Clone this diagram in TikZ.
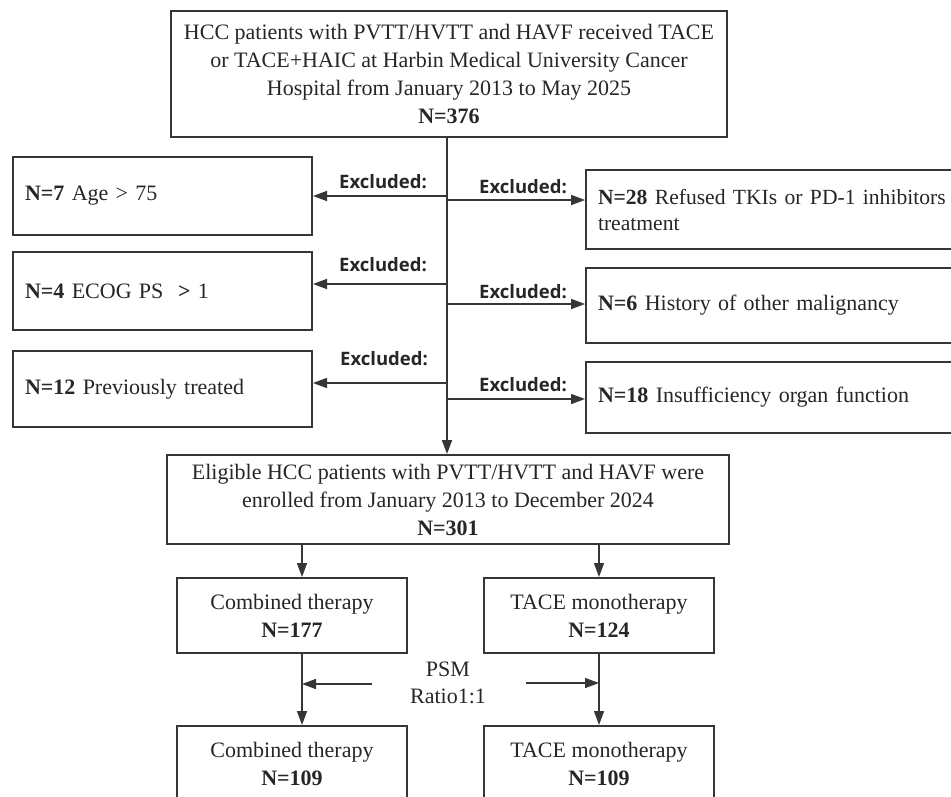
\documentclass[tikz,border=0pt]{standalone}
\usepackage{fontspec}
\setmainfont{Liberation Serif}
\newfontfamily\exfont{Open Sans}
\usetikzlibrary{arrows.meta}
\definecolor{ln}{HTML}{363636}
\definecolor{tx}{HTML}{262626}
\tikzset{
  box/.style={draw=ln, line width=2pt, text=tx, font=\fontsize{22}{28}\selectfont, inner sep=0pt, align=center},
  lbox/.style={draw=ln, line width=2pt, text=tx, font=\fontsize{22}{26}\selectfont, inner xsep=12pt, inner ysep=0pt, align=left},
  arr/.style={draw=ln, line width=1.5pt, -{Triangle[length=14pt,width=10pt]}},
  mainln/.style={draw=ln, line width=1.8pt, -{Triangle[length=14pt,width=10pt]}},
  exl/.style={font=\exfont\bfseries\fontsize{18.5}{22}\selectfont, text=tx, inner sep=0pt},
  psmlabel/.style={font=\fontsize{22}{27}\selectfont, text=tx, inner sep=0pt, align=center}
}
\begin{document}
\begin{tikzpicture}[x=1pt,y=-1pt]
\useasboundingbox (0,0) rectangle (951,796);
\clip (0,0) rectangle (951,796);
% top box
\node[box, minimum width=556pt, minimum height=126pt] (top) at (449,74)
  {HCC patients with PVTT/HVTT and HAVF received TACE\\
   or TACE+HAIC at Harbin Medical University Cancer\\
   Hospital from January 2013 to May 2025\\
   \textbf{N=376}};
% left exclusion boxes
\node[lbox, text width=275pt, minimum height=78pt] (L1) at (162.5,196) {\textbf{N=7} Age > 75};
\node[lbox, text width=275pt, minimum height=78pt] (L2) at (162.5,291) {\textbf{N=4} ECOG PS \ \textbf{>} 1};
\node[lbox, text width=275pt, minimum height=76pt] (L3) at (162.5,389) {\textbf{N=12} Previously treated};
% right exclusion boxes
\node[lbox, text width=356pt, minimum height=79pt] (R1) at (776,209.5) {\fontsize{21.6}{26}\selectfont\textbf{N=28} Refused TKIs or PD-1 inhibitors\\treatment};
\node[lbox, text width=356pt, minimum height=75pt] (R2) at (776,305.5) {\textbf{N=6} History of other malignancy};
\node[lbox, text width=356pt, minimum height=71pt] (R3) at (776,397.5) {\textbf{N=18} Insufficiency organ function};
% eligible box
\node[box, minimum width=562pt, minimum height=89pt] (elig) at (448,499.5)
  {Eligible HCC patients with PVTT/HVTT and HAVF were\\
   enrolled from January 2013 to December 2024\\
   \textbf{N=301}};
% treatment boxes
\node[box, minimum width=230pt, minimum height=75pt] (c1) at (292,615.5) {Combined therapy\\\textbf{N=177}};
\node[box, minimum width=230pt, minimum height=75pt] (t1) at (599,615.5) {TACE monotherapy\\\textbf{N=124}};
\node[box, minimum width=230pt, minimum height=75pt] (c2) at (292,763.5) {Combined therapy\\\textbf{N=109}};
\node[box, minimum width=230pt, minimum height=75pt] (t2) at (599,763.5) {TACE monotherapy\\\textbf{N=109}};
% main line
\coordinate (m) at (447,0);
\draw[mainln] (top.south -| m) -- (elig.north -| m);
% branches
\coordinate (bl1) at (447,196);
\coordinate (bl2) at (447,284);
\coordinate (bl3) at (447,383);
\coordinate (br1) at (447,200);
\coordinate (br2) at (447,304);
\coordinate (br3) at (447,399);
\draw[arr] (bl1) -- (bl1 -| L1.east);
\draw[arr] (bl2) -- (bl2 -| L2.east);
\draw[arr] (bl3) -- (bl3 -| L3.east);
\draw[arr] (br1) -- (br1 -| R1.west);
\draw[arr] (br2) -- (br2 -| R2.west);
\draw[arr] (br3) -- (br3 -| R3.west);
% excluded labels
\node[exl] (el1) at (383,182) {Excluded:};
\node[exl] (el2) at (383,265) {Excluded:};
\node[exl] (el3) at (384,359) {Excluded:};
\node[exl] (er1) at (523,187) {Excluded:};
\node[exl] (er2) at (523,292) {Excluded:};
\node[exl] (er3) at (523,385) {Excluded:};
% down arrows
\coordinate (xl) at (302,0);
\coordinate (xr) at (599,0);
\draw[arr] (elig.south -| xl) -- (c1.north -| xl);
\draw[arr] (elig.south -| xr) -- (t1.north -| xr);
\draw[arr] (c1.south -| xl) -- (c2.north -| xl);
\draw[arr] (t1.south -| xr) -- (t2.north -| xr);
% PSM
\node[psmlabel] (psm) at (448,683) {PSM\\Ratio1:1};
\coordinate (p1) at (372,684);
\coordinate (p2) at (526,683);
\draw[arr] (p1) -- (p1 -| xl);
\draw[arr] (p2) -- (p2 -| xr);
\end{tikzpicture}
\end{document}
